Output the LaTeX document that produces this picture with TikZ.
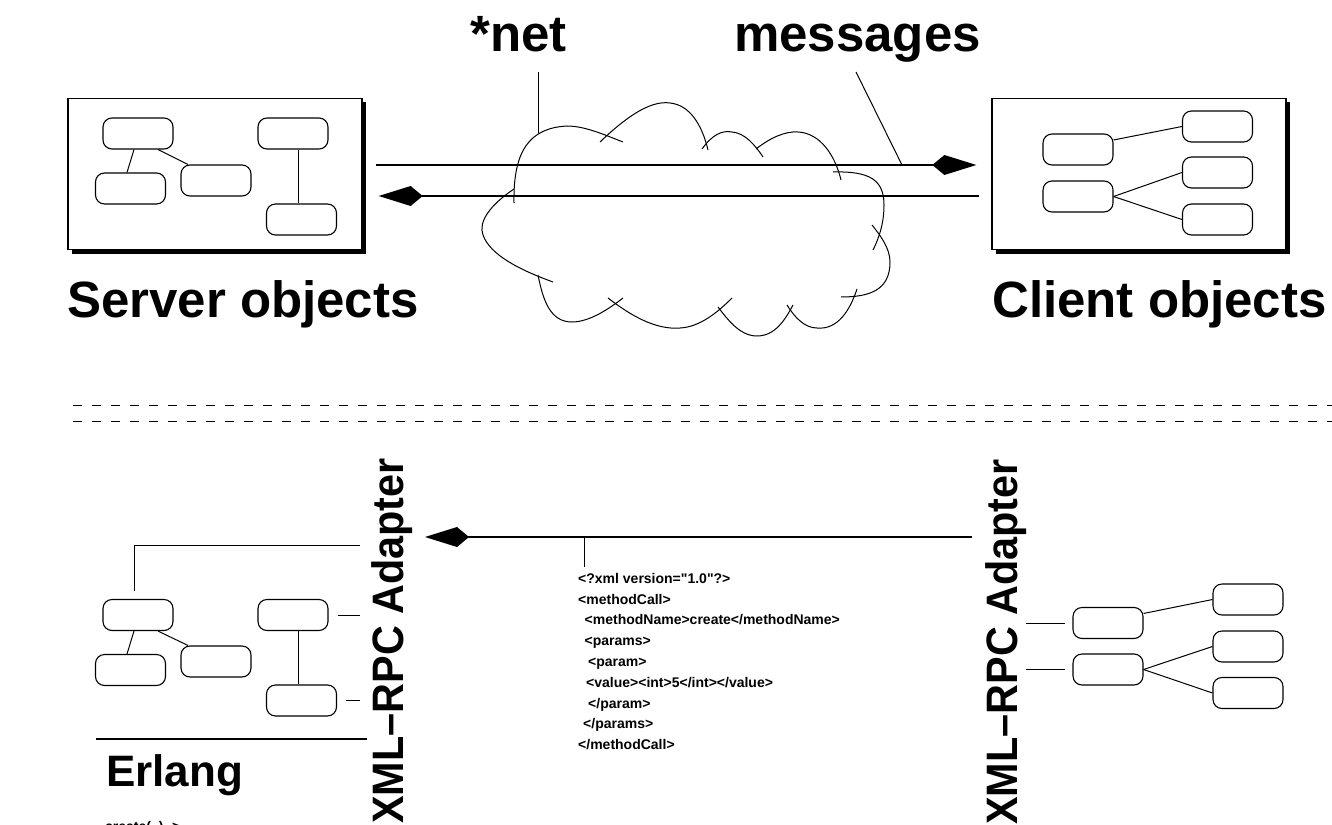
\documentclass[tikz,border=0pt]{standalone}
\usepackage{fontspec}
\setmainfont{Liberation Sans}
\usetikzlibrary{arrows.meta,shadows}

\begin{document}
\begin{tikzpicture}[x=1pt,y=-1pt,
	frame/.style={draw,fill=white,line width=1.3pt,minimum width=294pt,minimum height=151pt,inner sep=0,
		drop shadow={shadow xshift=4pt,shadow yshift=-4pt,fill=black,opacity=1}},
	obj/.style={draw,rounded corners=9pt,line width=1.1pt,minimum width=70pt,minimum height=31pt,inner sep=0},
	thin/.style={line width=1pt},
	msg/.style={line width=2pt,-{Kite[length=44pt,width=20pt,inset=12pt]}},
	big/.style={font=\bfseries\fontsize{51}{60}\selectfont,inner sep=0,anchor=base west},
	adapter/.style={font=\bfseries\fontsize{44}{52}\selectfont,inner sep=0,rotate=90,anchor=base east}]
	\useasboundingbox (0,0) rectangle (1332,824);
	\node[frame] (srv) at (215,174) {};
	\node[frame] (cli) at (1139,174) {};
	\node[obj] (s1) at (138,133.5) {};
	\node[obj] (s2) at (130.5,188.5) {};
	\node[obj] (s3) at (216,180.5) {};
	\node[obj] (s4) at (293,133.5) {};
	\node[obj] (s5) at (301.5,219.5) {};
	\draw[thin] ([xshift=-4pt]s1.south) -- ([xshift=-3.5pt]s2.north);
	\draw[thin] ([xshift=20pt]s1.south) -- ([xshift=-28pt]s3.north);
	\draw[thin] ([xshift=5pt]s4.south) -- ([xshift=5pt]s4.south |- s5.north);
	\node[obj] (c1) at (1078,149.5) {};
	\node[obj] (c2) at (1078,196.5) {};
	\node[obj] (c3) at (1217.5,126.5) {};
	\node[obj] (c4) at (1217.5,172.5) {};
	\node[obj] (c5) at (1217.5,219.5) {};
	\draw[thin] (c1.15) -- (c3.west);
	\draw[thin] (c2.east) -- (c4.west);
	\draw[thin] (c2.east) -- (c5.west);
	\draw[thin] (514,203) .. controls (513,150) and (530,128) .. (567,126) .. controls (585,126) and (605,135) .. (623,142);
	\draw[thin] (600,142) .. controls (625,118) and (650,100) .. (670,103) .. controls (690,105) and (702,125) .. (708,150);
	\draw[thin] (702,149) .. controls (712,135) and (722,130) .. (732,132) .. controls (745,133) and (755,145) .. (763,157);
	\draw[thin] (756,149) .. controls (770,138) and (785,131) .. (798,132) .. controls (820,133) and (835,155) .. (841,180);
	\draw[thin] (833,172) .. controls (870,171) and (884,180) .. (884,205) .. controls (884,225) and (878,240) .. (873,250);
	\draw[thin] (841,297) .. controls (870,297) and (890,290) .. (890,262) .. controls (890,248) and (880,235) .. (872,225);
	\draw[thin] (857,289) .. controls (850,310) and (838,330) .. (817,328) .. controls (805,328) and (795,318) .. (787,305);
	\draw[thin] (793,305) .. controls (785,320) and (775,336) .. (757,336) .. controls (740,336) and (728,320) .. (718,307);
	\draw[thin] (732,298) .. controls (718,312) and (700,327) .. (680,328) .. controls (655,330) and (630,315) .. (608,298);
	\draw[thin] (623,298) .. controls (610,308) and (590,322) .. (572,322) .. controls (550,322) and (543,300) .. (538,275);
	\draw[thin] (553,282) .. controls (520,270) and (490,255) .. (483,235) .. controls (478,222) and (490,205) .. (514,189);
	\draw[msg] ([xshift=13pt,yshift=9pt]srv.east) -- ([xshift=-15pt,yshift=9pt]cli.west);
	\draw[msg] ([xshift=-12pt,yshift=-22pt]cli.west) -- ([xshift=16pt,yshift=-22pt]srv.east);
	\node[big] (net) at (470,52) {*net};
	\node[big] (msgs) at (734,52) {messages};
	\coordinate (netq) at (538,72);
	\coordinate (netp) at (538,133);
	\coordinate (msgq) at (856,72);
	\coordinate (msgp) at (902,165);
	\draw[thin] (netq) -- (netp);
	\draw[thin] (msgq) -- (msgp);
	\node[big] (srvlbl) at (67,317) {Server objects};
	\node[big] (clilbl) at (992,317) {Client objects};
	\draw[thin,dash pattern=on 9pt off 10pt] (73,405) -- (1332,405);
	\draw[thin,dash pattern=on 9pt off 10pt] (73,421) -- (1332,421);
	\node[obj] (e1) at (138,615) {};
	\node[obj] (e2) at (130.5,670) {};
	\node[obj] (e3) at (216,661.5) {};
	\node[obj] (e4) at (293,615) {};
	\node[obj] (e5) at (301.5,700.5) {};
	\draw[thin] ([xshift=-4pt]e1.south) -- ([xshift=-3.5pt]e2.north);
	\draw[thin] ([xshift=20pt]e1.south) -- ([xshift=-28pt]e3.north);
	\draw[thin] ([xshift=5pt]e4.south) -- ([xshift=5pt]e4.south |- e5.north);
	\node[adapter] (adl) at (403,458) {\scalebox{0.94}[1]{XML–RPC Adapter}};
	\node[adapter] (adr) at (1017,459) {\scalebox{0.94}[1]{XML–RPC Adapter}};
	\coordinate (hook) at (360,545);
	\draw[thin] ([xshift=-4pt,yshift=8pt]e1.north) |- (hook);
	\draw[thin] ([xshift=9pt]e4.east) -- (e4.east -| hook);
	\draw[thin] ([xshift=9pt]e5.east) -- (e5.east -| hook);
	\draw[line width=2pt] (96,739) -- (367,739);
	\node[font=\bfseries\fontsize{44}{52}\selectfont,inner sep=0,anchor=base west] (erl) at (106,786) {Erlang};
	\node[font=\bfseries\fontsize{14}{17}\selectfont,inner sep=0,anchor=north west] (crt) at (105,821) {create(\_) ->};
	\coordinate (w1) at (972,537);
	\coordinate (w2) at (425,537);
	\coordinate (w3) at (584,537);
	\draw[msg] (w1) -- (w2);
	\draw[thin] (w3) -- ++(0,30);
	\node[font=\bfseries\fontsize{14}{20.8}\selectfont,inner sep=0,anchor=north west,align=left] (xmlmsg) at (578,573)
		{<?xml version=\textquotedbl 1.0\textquotedbl?>\\<methodCall>\\\hspace*{6.5pt}<methodName>create</methodName>\\\hspace*{6.5pt}<params>\\
		\hspace*{10pt}<param>\\\hspace*{8pt}<value><int>5</int></value>\\\hspace*{10pt}</param>\\\hspace*{5pt}</params>\\</methodCall>};
	\node[obj] (r1) at (1108,623) {};
	\node[obj] (r2) at (1108,669.5) {};
	\node[obj] (r3) at (1248,599.5) {};
	\node[obj] (r4) at (1248,646.5) {};
	\node[obj] (r5) at (1248,693) {};
	\draw[thin] (r1.15) -- (r3.west);
	\draw[thin] (r2.east) -- (r4.west);
	\draw[thin] (r2.east) -- (r5.west);
	\draw[thin] (r1.west -| adr.south) -- ([xshift=-7pt]r1.west);
	\draw[thin] (r2.west -| adr.south) -- ([xshift=-7pt]r2.west);
\end{tikzpicture}
\end{document}
